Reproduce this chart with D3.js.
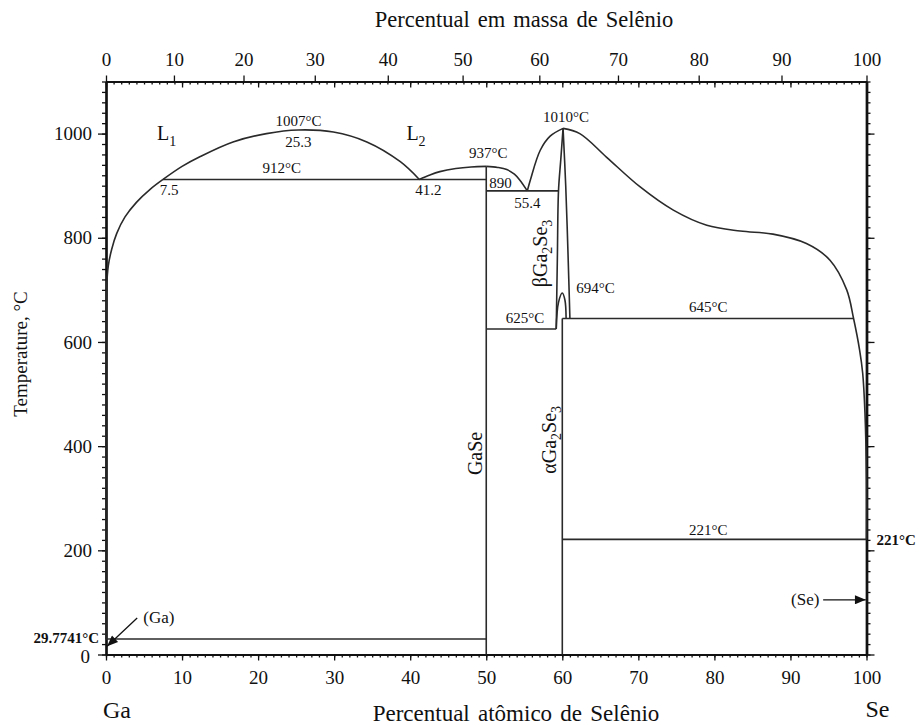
<!DOCTYPE html>
<html>
<head>
<meta charset="utf-8">
<script src="https://cdn.jsdelivr.net/npm/d3@7"></script>
<style>
  body { margin: 0; background: #fff; }
  svg { display: block; }
  text { font-family: "Liberation Serif", "Times New Roman", serif; fill: #111; }
</style>
</head>
<body>
<svg id="chart" width="921" height="727"></svg>
<script>
// ---- Ga–Se phase diagram: composition in at.% Se, temperature in °C ----

// axis ticks
const atomicTicks = d3.range(0, 101, 10);
const atomicMinor = d3.range(0, 101, 1);
const massTicks = d3.range(0, 101, 10);
const tempTicks = d3.range(0, 1001, 200);
const tempMinor = d3.range(0, 1101, 20);

// liquidus from the Ga side up to the monotectic at 7.5 at.% / 912 °C
const liquidusGa = [[0, 29.7741], [0, 300], [0, 590], [0.09, 706], [0.3, 746], [0.75, 778],
  [1.4, 808], [2.5, 840], [4.0, 868], [5.8, 893], [7.5, 912]];
// liquid miscibility gap L1 + L2
const miscibilityGap = [[7.5, 912], [10, 937], [12.4, 956], [16.7, 984], [21.1, 1000],
  [25.3, 1007], [29.9, 1003], [34.3, 984], [38.7, 946], [41.2, 912]];
// L2 liquidus up to the congruent melting of GaSe
const liquidusL2 = [[41.2, 912], [42.5, 920], [43.9, 927], [46, 933], [48, 936], [50, 937]];
// GaSe liquidus down to the eutectic at 55.4 at.% / 890 °C
const liquidusGaSe = [[50, 937], [51.5, 935], [52.7, 931], [53.7, 922], [54.4, 911], [55.4, 890]];
// Ga2Se3 liquidus, Ga-rich side
const liquidusGa2Se3 = [[55.4, 890], [55.8, 911], [57.1, 968], [58.4, 995], [60.1, 1010]];
// Se-rich liquidus from the Ga2Se3 maximum down to pure Se
const liquidusSe = [[60.1, 1010], [62.3, 1000], [65.8, 955], [70.2, 898], [74.6, 853],
  [79.0, 824], [83.4, 813], [87.7, 807], [92.1, 789], [95.2, 757], [97.4, 700],
  [98.3, 645], [99.1, 584], [99.5, 540], [99.8, 463], [100, 335], [100, 221]];
// beta-Ga2Se3 homogeneity range
const betaLeft = [[60.1, 1010], [59.8, 950], [59.5, 890], [59.35, 760], [59.2, 625]];
const betaRight = [[60.1, 1010], [60.45, 900], [60.75, 770], [61.0, 645]];
// alpha/beta transition dome
const alphaBetaDome = [[59.2, 625], [59.5, 676], [60.0, 694], [60.35, 680], [60.5, 645]];

// invariant isotherms
const isotherms = [
  { T: 912, x0: 7.5, x1: 50 },
  { T: 890, x0: 50, x1: 59.5 },
  { T: 625, x0: 50, x1: 59.2 },
  { T: 645, x0: 60, x1: 98.3 },
  { T: 221, x0: 60, x1: 100 },
  { T: 29.7741, x0: 0, x1: 50 }
];
// line compounds GaSe and alpha-Ga2Se3
const compounds = [
  { x: 50, T0: 0, T1: 937 },
  { x: 60, T0: 0, T1: 645 }
];

// ---- layout ----
const svg = d3.select("#chart");
const x = d3.scaleLinear().domain([0, 100]).range([106, 866.5]);
const y = d3.scaleLinear().domain([0, 1100]).range([654.5, 81.5]);

// mass % Se -> atomic % Se
const massToAtomic = w => {
  const nSe = w / 78.971, nGa = (100 - w) / 69.723;
  return 100 * nSe / (nSe + nGa);
};
const massGrid = d3.range(0, 101, 1);
const xMass = d3.scaleLinear().domain(massGrid).range(massGrid.map(w => x(massToAtomic(w))));

const LINE = "#2a2a2a";
const AX = "#111";

function styleAxis(g, width) {
  g.select(".domain").attr("stroke", AX).attr("stroke-width", width);
  g.selectAll(".tick line").attr("stroke", AX).attr("stroke-width", 1.3);
  g.selectAll(".tick text").style("font-family", "Liberation Serif, serif")
    .style("font-size", "19px").attr("fill", "#111");
}

// bottom axis (atomic %)
svg.append("g").attr("transform", `translate(0,${y(0)})`)
  .call(d3.axisBottom(x).tickValues(atomicMinor).tickSize(3).tickSizeOuter(0).tickFormat(""))
  .call(g => styleAxis(g, 2.2));
svg.append("g").attr("transform", `translate(0,${y(0)})`)
  .call(d3.axisBottom(x).tickValues(atomicTicks).tickSize(6).tickSizeOuter(0).tickPadding(10)
    .tickFormat(d3.format("d")))
  .call(g => styleAxis(g, 2.2));

// top axis: atomic % ticks inward, mass % ticks outward with labels
svg.append("g").attr("transform", `translate(0,${y(1100)})`)
  .call(d3.axisBottom(x).tickValues(atomicMinor).tickSize(3).tickSizeOuter(0).tickFormat(""))
  .call(g => styleAxis(g, 1.6));
svg.append("g").attr("transform", `translate(0,${y(1100)})`)
  .call(d3.axisBottom(x).tickValues(atomicTicks).tickSize(6).tickSizeOuter(0).tickFormat(""))
  .call(g => styleAxis(g, 1.6));
svg.append("g").attr("transform", `translate(0,${y(1100)})`)
  .call(d3.axisTop(xMass).tickValues(massTicks).tickSize(6).tickSizeOuter(0).tickPadding(10)
    .tickFormat(d3.format("d")))
  .call(g => styleAxis(g, 1.6));

// left axis
svg.append("g").attr("transform", `translate(${x(0)},0)`)
  .call(d3.axisLeft(y).tickValues(tempMinor).tickSize(4).tickSizeOuter(0).tickFormat(""))
  .call(g => styleAxis(g, 2.2));
svg.append("g").attr("transform", `translate(${x(0)},0)`)
  .call(d3.axisLeft(y).tickValues(tempTicks).tickSize(8).tickSizeOuter(0).tickPadding(6)
    .tickFormat(d3.format("d")))
  .call(g => styleAxis(g, 2.2))
  .call(g => g.selectAll(".tick text").filter(d => d === 0).attr("dy", "0.42em").attr("x", -16));

// right axis
svg.append("g").attr("transform", `translate(${x(100)},0)`)
  .call(d3.axisRight(y).tickValues(tempMinor).tickSize(4).tickSizeOuter(0).tickFormat(""))
  .call(g => styleAxis(g, 2.4));
svg.append("g").attr("transform", `translate(${x(100)},0)`)
  .call(d3.axisRight(y).tickValues(tempTicks).tickSize(8).tickSizeOuter(0).tickFormat(""))
  .call(g => styleAxis(g, 2.4));

// ---- phase boundaries ----
const curve = d3.line().x(d => x(d[0])).y(d => y(d[1])).curve(d3.curveCatmullRom.alpha(0.5));
const plot = svg.append("g").attr("fill", "none").attr("stroke", LINE).attr("stroke-width", 1.6);

[liquidusGa, miscibilityGap, liquidusL2, liquidusGaSe, liquidusGa2Se3, liquidusSe,
 betaLeft, betaRight, alphaBetaDome].forEach(pts => {
  plot.append("path").attr("d", curve(pts));
});

plot.selectAll(".iso").data(isotherms).join("line")
  .attr("x1", d => x(d.x0)).attr("x2", d => x(d.x1))
  .attr("y1", d => y(d.T)).attr("y2", d => y(d.T));

plot.selectAll(".cmp").data(compounds).join("line")
  .attr("x1", d => x(d.x)).attr("x2", d => x(d.x))
  .attr("y1", d => y(d.T0)).attr("y2", d => y(d.T1));

// ---- annotations ----
const ann = svg.append("g").style("font-size", "15px");
const iso = T => isotherms.find(d => d.T === T);
const peakGap = miscibilityGap[5];
const gapEnd = miscibilityGap[miscibilityGap.length - 1];
const peakGa2Se3 = liquidusGa2Se3[liquidusGa2Se3.length - 1];
const peakGaSe = liquidusL2[liquidusL2.length - 1];
const eutGaSe = liquidusGaSe[liquidusGaSe.length - 1];
const peakDome = alphaBetaDome[2];

function label(txt, px, py, anchor = "middle", extra = {}) {
  const t = ann.append("text").attr("x", px).attr("y", py).attr("text-anchor", anchor).text(txt);
  Object.entries(extra).forEach(([k, v]) => t.style(k, v));
  return t;
}

label(`${peakGap[1]}°C`, x(peakGap[0]), y(peakGap[1]) - 4);
label(`${peakGap[0]}`, x(peakGap[0]), y(peakGap[1]) + 17);
label(`${iso(912).T}°C`, x(23.1), y(912) - 6);
label(`${iso(912).x0}`, x(8.3), y(912) + 16);
label(`${gapEnd[0]}`, x(42.4), y(912) + 16);
label(`${peakGaSe[1]}°C`, x(peakGaSe[0]) + 2, y(peakGaSe[1]) - 8);
label(`${iso(890).T}`, x(50) + 3, y(890) - 2.5, "start");
label(`${eutGaSe[0]}`, x(eutGaSe[0]), y(eutGaSe[1]) + 17.5);
label(`${peakGa2Se3[1]}°C`, x(peakGa2Se3[0]) + 3, y(peakGa2Se3[1]) - 6);
label(`${peakDome[1]}°C`, x(peakDome[0]) + 14, y(peakDome[1]) + 0.5, "start");
label(`${iso(645).T}°C`, x(79.2), y(645) - 6.5);
label(`${iso(625).T}°C`, x(55.1), y(625) - 6);
label(`${iso(221).T}°C`, x(79.2), y(221) - 4.5);

// values at the axes
label(`${iso(221).T}°C`, x(100) + 10, y(221) + 5.5, "start", { "font-weight": "bold", "font-size": "15px" });
label(`${iso(29.7741).T}°C`, x(0) - 7, y(29.7741) + 4, "end", { "font-weight": "bold", "font-size": "15px" });

// liquid labels L1 and L2
[["1", 6.7], ["2", 39.5]].forEach(([s, at]) => {
  const t = ann.append("text").attr("x", x(at)).attr("y", y(988)).style("font-size", "20px").text("L");
  t.append("tspan").attr("dy", 6).style("font-size", "14px").text(s);
});

// phase names written vertically, with subscripts
function phaseName(parts, at, T) {
  const t = ann.append("text")
    .attr("transform", `translate(${x(at)},${y(T)}) rotate(-90)`)
    .attr("text-anchor", "middle").attr("dy", "0.35em")
    .style("font-size", "20px");
  let lowered = false;
  parts.forEach(([s, sub]) => {
    const span = t.append("tspan").text(s);
    if (sub && !lowered) span.attr("dy", 5);
    if (!sub && lowered) span.attr("dy", -5);
    if (sub) span.style("font-size", "14px");
    lowered = !!sub;
  });
  return t;
}
phaseName([["βGa"], ["2", true], ["Se"], ["3", true]], 57.1, 770);
phaseName([["GaSe"]], 48.5, 386);
phaseName([["αGa"], ["2", true], ["Se"], ["3", true]], 58.2, 412);

// pure element arrows
const defs = svg.append("defs");
defs.append("marker").attr("id", "head").attr("viewBox", "0 0 12 10")
  .attr("refX", 12).attr("refY", 5).attr("markerWidth", 13).attr("markerHeight", 9)
  .attr("markerUnits", "userSpaceOnUse").attr("orient", "auto")
  .append("path").attr("d", "M0,0 L12,5 L0,10 Z").attr("fill", "#111");

svg.append("line").attr("x1", x(4.1)).attr("y1", y(70)).attr("x2", x(0.15)).attr("y2", y(16))
  .attr("stroke", "#111").attr("stroke-width", 1.3).attr("marker-end", "url(#head)");
label("(Ga)", x(4.9), y(70) + 5, "start", { "font-size": "17px" });

svg.append("line").attr("x1", x(94.3)).attr("y1", y(105)).attr("x2", x(99.9)).attr("y2", y(105))
  .attr("stroke", "#111").attr("stroke-width", 1.3).attr("marker-end", "url(#head)");
label("(Se)", x(93.8), y(105) + 5.5, "end", { "font-size": "17px" });

// axis titles
svg.append("text").attr("x", 524).attr("y", 27).attr("text-anchor", "middle")
  .style("font-size", "22.5px").style("word-spacing", "2.5px").text("Percentual em massa de Selênio");
svg.append("text").attr("x", 516).attr("y", 721).attr("text-anchor", "middle")
  .style("font-size", "23px").style("word-spacing", "2.5px").text("Percentual atômico de Selênio");
svg.append("text").attr("transform", "translate(27,354) rotate(-90)").attr("text-anchor", "middle")
  .style("font-size", "19px").text("Temperature, °C");
svg.append("text").attr("x", x(0) - 3).attr("y", 718).style("font-size", "24px").text("Ga");
svg.append("text").attr("x", x(100) - 1).attr("y", 717).style("font-size", "24px").text("Se");
</script>
</body>
</html>
